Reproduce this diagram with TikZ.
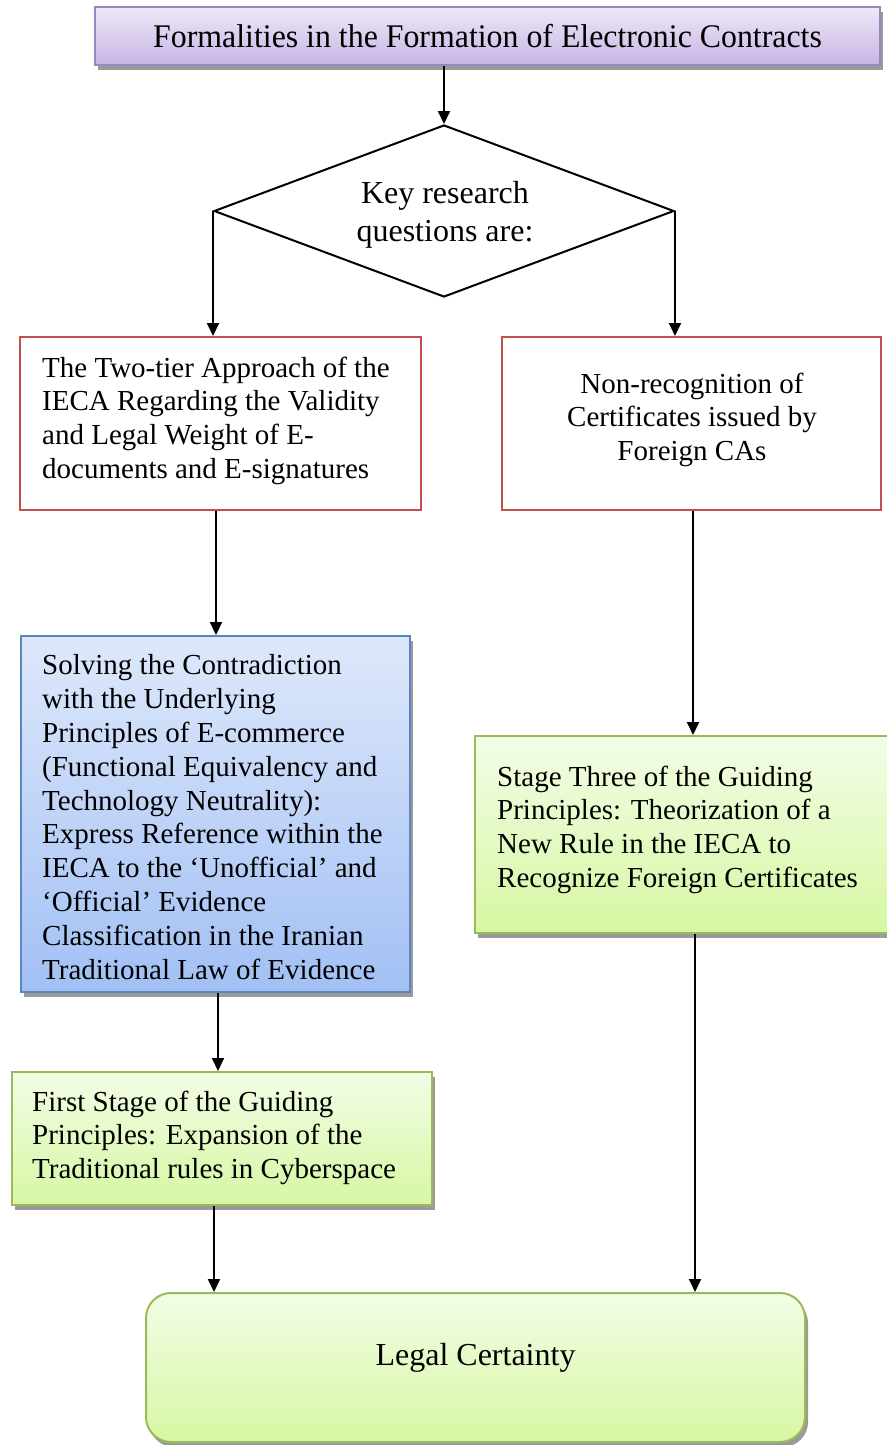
\documentclass[tikz,border=0pt]{standalone}
\usepackage{fontspec}
\setmainfont{Liberation Serif}
\usetikzlibrary{shapes.geometric,shadows,arrows.meta}

\definecolor{purpleTop}{HTML}{EEE8F8}
\definecolor{purpleBot}{HTML}{C8B4E3}
\definecolor{purpleLine}{HTML}{9A84C4}
\definecolor{redLine}{HTML}{C0504D}
\definecolor{blueTop}{HTML}{DEE8FB}
\definecolor{blueBot}{HTML}{A2C0F4}
\definecolor{blueLine}{HTML}{5A86C2}
\definecolor{greenTop}{HTML}{F3FDE6}
\definecolor{greenBot}{HTML}{D6F7A3}
\definecolor{greenLine}{HTML}{9BBB59}
\definecolor{shadowGray}{HTML}{9A9A9A}

\tikzset{
  box/.style={rectangle, inner sep=0pt, line width=2pt},
  shadowed/.style={drop shadow={shadow xshift=3pt, shadow yshift=-5pt,
      fill=shadowGray, opacity=1}},
  purplebox/.style={box, shadowed, draw=purpleLine, top color=purpleTop, bottom color=purpleBot},
  redbox/.style={box, draw=redLine, fill=white},
  bluebox/.style={box, shadowed, draw=blueLine, top color=blueTop, bottom color=blueBot},
  greenbox/.style={box, shadowed, draw=greenLine, top color=greenTop, bottom color=greenBot},
  bigfont/.style={font=\fontsize{29}{33.8}\selectfont},
  txt/.style={bigfont, inner sep=0pt, align=left, anchor=north west},
  arr/.style={line width=2pt, -{Triangle[length=13pt,width=12pt]}}
}

\begin{document}
\begin{tikzpicture}[x=1pt, y=-1pt]
  \useasboundingbox (0,0) rectangle (886,1445);

  % title
  \node[purplebox, font=\fontsize{33}{38}\selectfont, minimum width=785pt, minimum height=58pt] (top) at (487.5,36)
    {\scalebox{0.965}[1]{Formalities in the Formation of Electronic Contracts}};

  % decision
  \node[diamond, draw, line width=2pt, inner sep=0pt, minimum width=460pt,
        minimum height=172pt] (dia) at (444,211) {};
  \node[font=\fontsize{32}{38}\selectfont, align=center, inner sep=0pt] (diatext) at (445,214.5)
    {Key research\\questions are:};

  % first row
  \node[redbox, minimum width=401pt, minimum height=173pt] (b1) at (220.5,423.5) {};
  \node[txt] (b1text) at (42,356.5)
    {The Two-tier Approach of the\\IECA Regarding the Validity\\and Legal Weight of E-\\documents and E-signatures};

  \node[redbox, minimum width=379pt, minimum height=173pt] (b2) at (691.5,423.5) {};
  \node[bigfont, inner sep=0pt, align=center, anchor=north] (b2text) at (692,372.5)
    {Non-recognition of\\Certificates issued by\\Foreign CAs};

  % second row
  \node[bluebox, minimum width=389pt, minimum height=356pt] (blue) at (215.5,814) {};
  \node[txt] (bluetext) at (42,654.5)
    {Solving the Contradiction\\with the Underlying\\Principles of E-commerce\\(Functional Equivalency and\\Technology Neutrality):\\Express Reference within the\\IECA to the ‘Unofficial’ and\\‘Official’ Evidence\\Classification in the Iranian\\Traditional Law of Evidence};

  \node[greenbox, minimum width=420pt, minimum height=197pt] (gR) at (685,834.5) {};
  \node[txt] (gRtext) at (497,765.5)
    {Stage Three of the Guiding\\Principles: Theorization of a\\New Rule in the IECA to\\Recognize Foreign Certificates};

  \node[greenbox, minimum width=420pt, minimum height=133pt] (gL) at (222,1138.5) {};
  \node[txt] (gLtext) at (32,1090.5)
    {First Stage of the Guiding\\Principles: Expansion of the\\Traditional rules in Cyberspace};

  % result
  \node[greenbox, rounded corners=25pt, minimum width=659pt, minimum height=149pt] (lc) at (475.5,1367.5) {};
  \node[font=\fontsize{32}{38}\selectfont, inner sep=0pt] (lctext) at (475.5,1358) {Legal Certainty};

  % connectors
  \draw[arr] (top.south -| dia.north) -- (dia.north);
  \draw[arr] (dia.west) -- (dia.west |- b1.north);
  \draw[arr] (dia.east) -- (dia.east |- b2.north);
  \draw[arr] ([xshift=-4.5pt]b1.south) -- ([xshift=-4.5pt]b1.south |- blue.north);
  \draw[arr] ([xshift=1.5pt]b2.south) -- ([xshift=1.5pt]b2.south |- gR.north);
  \draw[arr] ([xshift=2.5pt]blue.south) -- ([xshift=2.5pt]blue.south |- gL.north);
  \draw[arr] ([xshift=-8pt]gL.south) -- ([xshift=-8pt]gL.south |- lc.north);
  \draw[arr] ([xshift=3.5pt]b2.south |- gR.south) -- ([xshift=3.5pt]b2.south |- lc.north);
\end{tikzpicture}
\end{document}
